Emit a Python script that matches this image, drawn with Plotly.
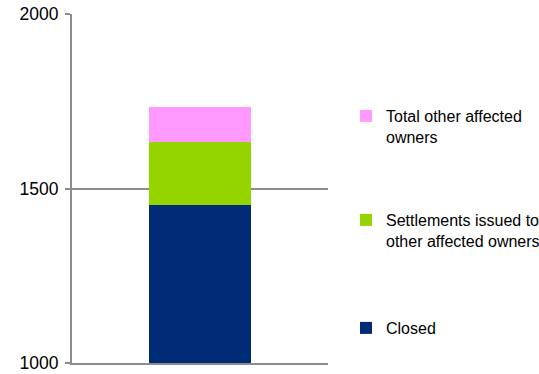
import plotly.graph_objects as go

categories = [""]
closed = [1453]
settlements = [179]
total_other = [102]
tick_vals = [1000, 1500, 2000]
tick_text = ["1000", "1500", "2000"]

names = ["Closed", "Settlements issued to<br>other affected owners", "Total other affected<br>owners"]
colors = ["#002B77", "#94D500", "#FF99FF"]
series = [closed, settlements, total_other]
legends = ["legend3", "legend2", "legend"]

fig = go.Figure()
for name, col, vals, lg in zip(names, colors, series, legends):
    fig.add_trace(go.Bar(x=categories, y=vals, name=name, marker=dict(color=col, line=dict(width=0)),
                         legend=lg))

W, H = 539, 374
l, r, t, b = 72, 211, 14, 11
ph = H - t - b

def py(pix):
    return (H - b - pix) / ph

def px(pix):
    return (pix - l) / (W - l - r)

font = dict(family="Liberation Sans, Arial, sans-serif", size=16, color="#000000")
leg_common = dict(xanchor="left", yanchor="top", bgcolor="rgba(0,0,0,0)", font=font,
                  valign="top", itemclick=False, itemdoubleclick=False)

fig.update_layout(
    width=W, height=H,
    margin=dict(l=l, r=r, t=t, b=b, pad=0, autoexpand=False),
    paper_bgcolor="white", plot_bgcolor="white",
    barmode="stack", bargap=0.6,
    font=font,
    showlegend=True,
    legend=dict(x=px(346), y=py(99), **leg_common),
    legend2=dict(x=px(346), y=py(203), **leg_common),
    legend3=dict(x=px(346), y=py(311), **leg_common),
    xaxis=dict(showline=True, linecolor="#8C8C8C", linewidth=2, showgrid=False, zeroline=False,
               showticklabels=False, ticks=""),
    yaxis=dict(range=[1000, 2000], tickvals=tick_vals, ticktext=tick_text,
               showgrid=True, gridcolor="#8C8C8C", gridwidth=2,
               showline=True, linecolor="#8C8C8C", linewidth=2,
               ticks="outside", ticklen=5, tickwidth=2, tickcolor="#8C8C8C",
               ticklabelstandoff=3,
               tickfont=dict(family="Liberation Sans, Arial, sans-serif", size=17.5, color="#000000"),
               zeroline=False),
)

fig.write_html("out.html")
